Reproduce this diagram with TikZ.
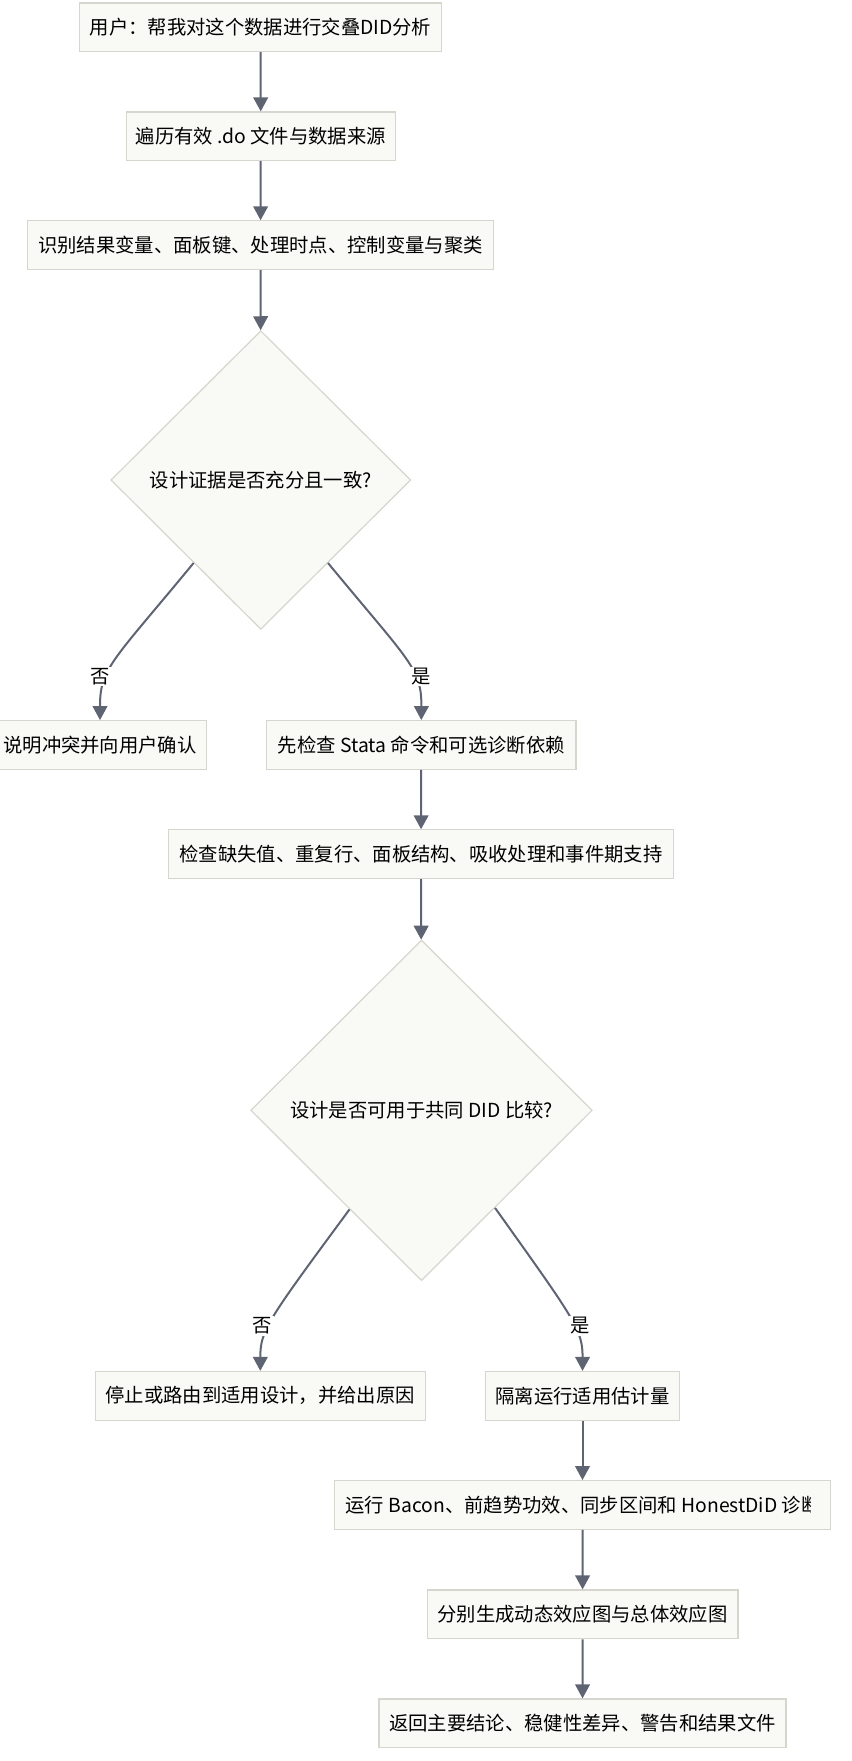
\documentclass[tikz,border=0pt]{standalone}
\usepackage{fontspec}
\setmainfont{Noto Sans CJK SC}
\usetikzlibrary{shapes.geometric,arrows.meta}
\definecolor{boxfill}{HTML}{F9F9F5}
\definecolor{boxline}{HTML}{D6D6CE}
\definecolor{flowline}{HTML}{5E6472}
\newcommand{\nodefont}{\fontsize{14.5pt}{17pt}\selectfont}
\tikzset{
  procbox/.style={draw=boxline, fill=boxfill, line width=0.9pt, minimum height=36.5pt, inner sep=0pt, font=\nodefont},
  choice/.style={diamond, draw=boxline, fill=boxfill, line width=0.9pt, inner sep=0pt, font=\nodefont},
  flow/.style={draw=flowline, line width=1.5pt, -{Triangle[length=10.5pt,width=11pt]}},
  lbl/.style={fill=white, inner sep=1pt, font=\nodefont}
}
\begin{document}
\begin{tikzpicture}[x=0.75pt,y=-0.75pt]
\useasboundingbox (0,0) rectangle (852,1761);
\node[procbox, minimum width=271.8pt] (user) at (260.5,27.3) {用户：帮我对这个数据进行交叠DID分析};
\node[procbox, minimum width=201.8pt] (scan) at (260.8,136.3) {遍历有效 .do 文件与数据来源};
\node[procbox, minimum width=349.8pt] (ident) at (260.5,245.2) {识别结果变量、面板键、处理时点、控制变量与聚类};
\node[choice, minimum width=225pt, minimum height=224pt] (evid) at (260.8,480) {设计证据是否充分且一致?};
\node[procbox, minimum width=160pt] (confirm) at (100,745) {说明冲突并向用户确认};
\node[procbox, minimum width=232pt] (deps) at (421.3,745) {先检查 Stata 命令和可选诊断依赖};
\node[procbox, minimum width=378.8pt] (checks) at (421,854.2) {检查缺失值、重复行、面板结构、吸收处理和事件期支持};
\node[choice, minimum width=256.2pt, minimum height=255.5pt] (design) at (421.5,1110.3) {设计是否可用于共同 DID 比较?};
\node[procbox, minimum width=247.5pt] (stop) at (260.3,1395.8) {停止或路由到适用设计，并给出原因};
\node[procbox, minimum width=145.2pt] (estim) at (582.5,1395.8) {隔离运行适用估计量};
\node[procbox, minimum width=372.3pt, path picture={
  \clip ([xshift=6pt]path picture bounding box.south west) rectangle ([xshift=-15pt]path picture bounding box.north east);
  \node[anchor=west, inner sep=0pt, font=\nodefont] at (path picture bounding box.west) {运行 Bacon、前趋势功效、同步区间和 HonestDiD 诊断};
}] (diag) at (582.5,1505) {};
\node[procbox, minimum width=233pt] (plots) at (582.6,1614.3) {分别生成动态效应图与总体效应图};
\node[procbox, minimum width=305.3pt] (report) at (582.5,1723.3) {返回主要结论、稳健性差异、警告和结果文件};
\draw[flow] (user) -- (scan);
\draw[flow] (scan) -- (ident);
\draw[flow] (ident) -- (evid);
\draw[flow] (evid.-129) .. controls (112,662) and (100,668) .. node[lbl, pos=0.65, xshift=-5pt] {否} (confirm.north);
\draw[flow] (evid.-51) .. controls (409.6,662) and (421.6,668) .. node[lbl, pos=0.65, xshift=5pt] {是} (deps.north);
\draw[flow] (deps) -- (checks);
\draw[flow] (checks) -- (design);
\draw[flow] (design.-126.5) .. controls (268,1320) and (260.3,1330) .. node[lbl, pos=0.58, xshift=-5pt] {否} (stop.north);
\draw[flow] (design.-53.5) .. controls (575,1320) and (582.7,1330) .. node[lbl, pos=0.58, xshift=5pt] {是} (estim.north);
\draw[flow] (estim) -- (diag);
\draw[flow] (diag) -- (plots);
\draw[flow] (plots) -- (report);
\end{tikzpicture}
\end{document}
